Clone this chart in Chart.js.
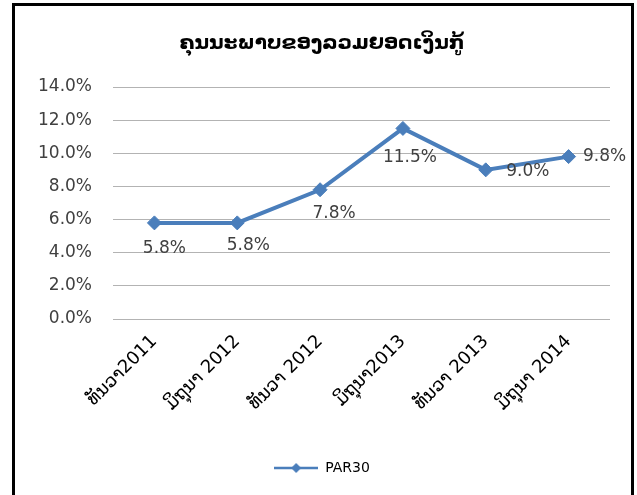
<!DOCTYPE html>
<html>
<head>
<meta charset="utf-8">
<style>
  html, body { margin: 0; padding: 0; background: #fff; }
  #wrap { position: relative; width: 637px; height: 495px; overflow: hidden; }
  #frame { position: absolute; left: 12px; top: 3px; width: 616px; height: 500px;
           border: 3px solid #000; border-bottom: none; pointer-events: none; }
  canvas { position: absolute; left: 0; top: 0; }
</style>
<script src="https://cdn.jsdelivr.net/npm/chart.js"></script>
</head>
<body>
<div id="wrap">
  <canvas id="parChart" width="637" height="495"></canvas>
  <div id="frame"></div>
</div>

<script>
  // data
  const categories = ['ທັນວາ2011', 'ມິຖຸນາ 2012', 'ທັນວາ 2012', 'ມິຖຸນາ2013', 'ທັນວາ 2013', 'ມິຖຸນາ 2014'];
  const par30 = [5.8, 5.8, 7.8, 11.5, 9.0, 9.8];
  const seriesName = 'PAR30';
  const chartTitle = 'ຄຸນນະພາບຂອງລວມຍອດເງິນກູ້';
  const yMin = 0, yMax = 14, yStep = 2;

  const blue = '#4A7EBB';
  const fontFamily = "'DejaVu Sans', Verdana, sans-serif";

  // legend marker: line with a diamond, like Excel
  const legendMark = document.createElement('canvas');
  legendMark.width = 44;
  legendMark.height = 14;
  (() => {
    const g = legendMark.getContext('2d');
    g.strokeStyle = blue;
    g.lineWidth = 2.5;
    g.beginPath();
    g.moveTo(0, 7);
    g.lineTo(44, 7);
    g.stroke();
    g.fillStyle = blue;
    g.beginPath();
    g.moveTo(22, 2);
    g.lineTo(27, 7);
    g.lineTo(22, 12);
    g.lineTo(17, 7);
    g.closePath();
    g.fill();
  })();

  // value labels, placed the way they sit in the original
  const pointLabels = {
    id: 'pointLabels',
    afterDatasetsDraw(chart) {
      const shifts = [[10, 26], [11, 23], [14, 24], [7, 29], [42, 2], [36, 0]];
      const meta = chart.getDatasetMeta(0);
      const ctx = chart.ctx;
      ctx.save();
      ctx.font = '17px ' + fontFamily;
      ctx.fillStyle = '#404040';
      ctx.textAlign = 'center';
      ctx.textBaseline = 'middle';
      meta.data.forEach((pt, i) => {
        const [dx, dy] = shifts[i];
        ctx.fillText(par30[i].toFixed(1) + '%', pt.x + dx, pt.y + dy);
      });
      ctx.restore();
    }
  };

  new Chart(document.getElementById('parChart'), {
    type: 'line',
    data: {
      labels: categories,
      datasets: [{
        label: seriesName,
        data: par30,
        borderColor: blue,
        backgroundColor: blue,
        borderWidth: 4,
        pointStyle: 'rectRot',
        pointRadius: 7,
        pointBorderWidth: 1,
        tension: 0,
        fill: false
      }]
    },
    options: {
      responsive: false,
      animation: false,
      layout: { padding: { left: 34, right: 27, top: 0, bottom: 10 } },
      plugins: {
        title: {
          display: true,
          text: chartTitle,
          color: '#000',
          font: { family: fontFamily, size: 20, weight: 'bold' },
          padding: { top: 32, bottom: 31 }
        },
        legend: {
          position: 'bottom',
          labels: {
            usePointStyle: true,
            pointStyle: legendMark,
            pointStyleWidth: 44,
            boxWidth: 44,
            color: '#000',
            font: { family: fontFamily, size: 14 }
          }
        },
        tooltip: { enabled: false }
      },
      scales: {
        x: {
          offset: true,
          grid: { display: false },
          border: { display: false },
          ticks: {
            color: '#000',
            font: { family: fontFamily, size: 18 },
            minRotation: 45,
            maxRotation: 45,
            padding: 4
          },
          afterFit: s => { s.height = 132; }
        },
        y: {
          min: yMin,
          max: yMax,
          grid: { color: '#b3b3b3', drawTicks: false },
          border: { display: false },
          ticks: {
            stepSize: yStep,
            color: '#404040',
            padding: 21,
            font: { family: fontFamily, size: 17 },
            callback: v => v.toFixed(1) + '%'
          },
          afterFit: s => { s.width = 79; }
        }
      }
    },
    plugins: [pointLabels]
  });
</script>
</body>
</html>
